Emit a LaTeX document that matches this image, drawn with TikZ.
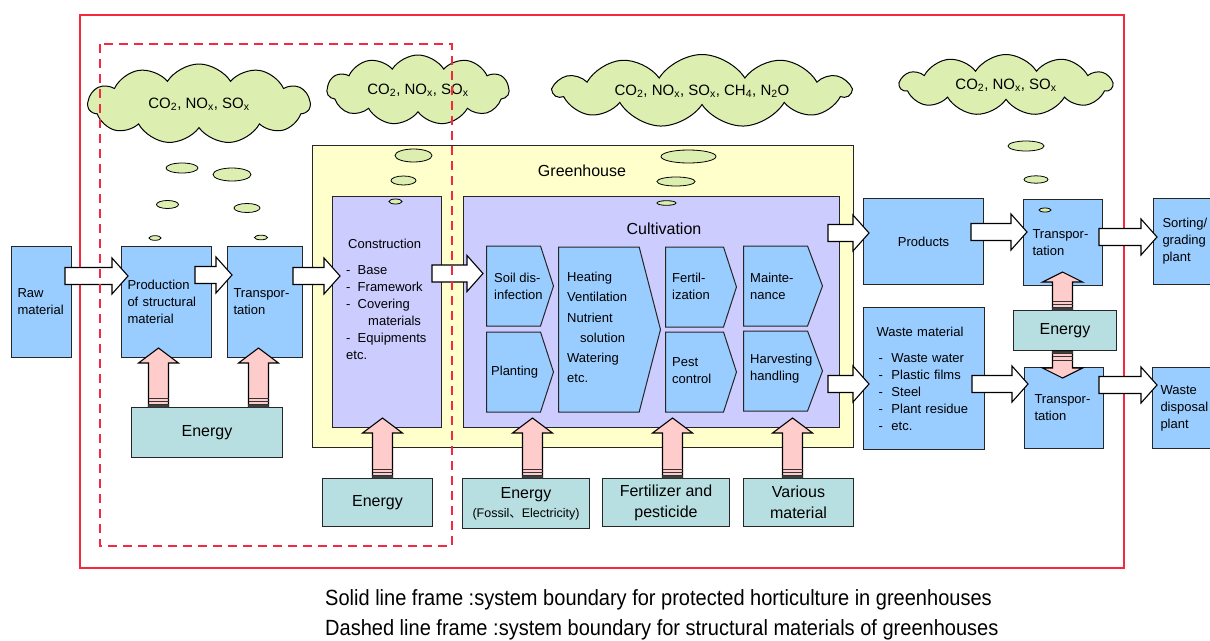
\documentclass[tikz,border=0pt]{standalone}
\usepackage{fontspec}
\setmainfont{Liberation Sans}
\newfontfamily\capfont[FakeStretch=0.91]{Liberation Sans}
\newfontfamily\cjk{Noto Sans CJK JP}
\usetikzlibrary{shapes.symbols,calc}

\definecolor{boxblue}{HTML}{99CCFF}
\definecolor{boxlilac}{HTML}{CCCCFF}
\definecolor{houseyellow}{HTML}{FFFFCC}
\definecolor{energyteal}{HTML}{B7DFE1}
\definecolor{cloudgreen}{HTML}{DDEFB0}
\definecolor{arrowpink}{HTML}{FFCCCC}
\definecolor{framered}{HTML}{F5283F}

\tikzset{
  box/.style={draw=black!85, line width=1pt, anchor=north west, inner xsep=6pt, inner ysep=0pt,
    align=left, font=\fontsize{13}{17}\selectfont},
  bluebox/.style={box, fill=boxblue},
  lilacbox/.style={box, fill=boxlilac},
  energybox/.style={box, fill=energyteal, align=center, inner xsep=0pt, font=\fontsize{16}{21}\selectfont},
  chev/.style={signal, signal to=east, draw=black!85, line width=1pt, fill=boxblue, anchor=west, inner sep=0pt},
  chevtxt/.style={anchor=west, align=left, inner sep=0pt, font=\fontsize{13}{17}\selectfont},
  gas/.style={cloud, cloud puffs=11, cloud puff arc=115, cloud ignores aspect, draw, line width=1pt, fill=cloudgreen,
    inner sep=0pt, font=\fontsize{15}{17}\selectfont},
  bubble/.style={draw, line width=.8pt, fill=cloudgreen},
  arrowline/.style={draw=black, line width=1.1pt, line join=miter},
  stripe/.style={draw=black!80, line width=.7pt},
}

% white block arrow between two boxes
\newcommand\blockarrow[2]{%
  \draw[arrowline, fill=white] let \p1=#1, \p2=#2 in
    (\x1,\y1+8.5pt) -- (\x2-16pt,\y1+8.5pt) -- (\x2-16pt,\y1+18pt) -- (\x2,\y1)
    -- (\x2-16pt,\y1-18pt) -- (\x2-16pt,\y1-8.5pt) -- (\x1,\y1-8.5pt) -- cycle;
}
% pink energy arrow, #3 = head length
\newcommand\pinkarrow[3]{%
  \draw[arrowline, fill=arrowpink] let \p1=#1, \p2=#2, \n2={sign(\y2-\y1)*#3} in
    ({\x1-10pt},{\y1}) -- ({\x1-10pt},{\y2-(\n2)}) -- ({\x1-20pt},{\y2-(\n2)}) -- (\x1,\y2)
    -- ({\x1+20pt},{\y2-(\n2)}) -- ({\x1+10pt},{\y2-(\n2)}) -- ({\x1+10pt},{\y1}) -- cycle;
  \draw[stripe, fill=black!75] let \p1=#1, \p2=#2, \n1={sign(\y2-\y1)} in
    ({\x1-10pt},{\y1}) rectangle ({\x1+10pt},{\y1+(\n1)*2.5pt})
    ({\x1-10pt},{\y1+(\n1)*5.5pt}) -- ({\x1+10pt},{\y1+(\n1)*5.5pt})
    ({\x1-10pt},{\y1+(\n1)*9pt}) -- ({\x1+10pt},{\y1+(\n1)*9pt});
}

\begin{document}
\begin{tikzpicture}[x=1pt,y=-1pt]
\useasboundingbox (0,0) rectangle (1210,640);

% system boundary
\draw[framered, line width=2.5pt] (80,15) rectangle (1124,568);

% emissions
\node[gas, minimum width=222, minimum height=80] (gas1) at (199,104) {CO\textsubscript{2}, NO\textsubscript{x}, SO\textsubscript{x}};
\node[gas, minimum width=182, minimum height=70] (gas2) at (418,90) {CO\textsubscript{2}, NO\textsubscript{x}, SO\textsubscript{x}};
\node[gas, minimum width=296, minimum height=73] (gas3) at (702,91) {CO\textsubscript{2}, NO\textsubscript{x}, SO\textsubscript{x}, CH\textsubscript{4}, N\textsubscript{2}O};
\node[gas, minimum width=212, minimum height=61] (gas4) at (1006,85) {CO\textsubscript{2}, NO\textsubscript{x}, SO\textsubscript{x}};

% material chain
\node[bluebox, minimum width=60, minimum height=111, text width=48pt] (raw) at (11,246) {Raw\\material};
\node[bluebox, minimum width=90, minimum height=111, text width=78pt] (prod) at (121,246) {Production\\of structural\\material};
\node[bluebox, minimum width=75, minimum height=111, text width=63pt] (trans1) at (227,246) {Transpor-\\tation};
\node[energybox, minimum width=151, minimum height=50] (energy1) at (131,407) {Energy};

% greenhouse
\node[box, fill=houseyellow, minimum width=541, minimum height=302] (house) at (312,145) {};
\node[lilacbox, minimum width=109, minimum height=231] (constr) at (332,196) {};
\node[lilacbox, minimum width=376, minimum height=231] (cult) at (463,196) {};
\node[font=\fontsize{16}{18}\selectfont, inner sep=0pt] (houselbl) at (582,171) {Greenhouse};
\node[font=\fontsize{16}{18}\selectfont, inner sep=0pt] (cultlbl) at (664,229) {Cultivation};
\node[chevtxt, anchor=north west] (constrtxt) at (346,239) {\hspace*{2pt}Construction\\[9pt]
  - \ Base\\- \ Framework\\- \ Covering\\\hspace*{22pt}materials\\- \ Equipments\\etc.};

\node[chev, signal pointer angle=144, minimum width=67, minimum height=80] (soil) at (486,286) {};
\node[chev, signal pointer angle=144, minimum width=67, minimum height=80] (plant) at (486,372) {};
\node[chev, signal pointer angle=151, minimum width=102, minimum height=165] (heat) at (558,329.5) {};
\node[chev, signal pointer angle=144, minimum width=71, minimum height=80] (fert) at (665,287) {};
\node[chev, signal pointer angle=144, minimum width=71, minimum height=80] (pest) at (665,372) {};
\node[chev, signal pointer angle=139, minimum width=79, minimum height=80] (maint) at (743,286) {};
\node[chev, signal pointer angle=139, minimum width=79, minimum height=80] (harv) at (743,371) {};
\node[chevtxt] (soiltxt) at ([xshift=8]soil.west) {Soil dis-\\infection};
\node[chevtxt] (planttxt) at ([xshift=5]plant.west) {Planting};
\node[chevtxt, font=\fontsize{13}{20.2}\selectfont] (heattxt) at ([xshift=9,yshift=2]heat.west)
  {Heating\\Ventilation\\Nutrient\\\hspace*{13pt}solution\\Watering\\etc.};
\node[chevtxt] (ferttxt) at ([xshift=7,yshift=1]fert.west) {Fertil-\\ization};
\node[chevtxt] (pesttxt) at ([xshift=7,yshift=1]pest.west) {Pest\\control};
\node[chevtxt] (mainttxt) at ([xshift=7]maint.west) {Mainte-\\nance};
\node[chevtxt] (harvtxt) at ([xshift=7,yshift=2]harv.west) {Harvesting\\handling};

% inputs
\node[energybox, minimum width=110, minimum height=48] (energy2) at (322,478) {Energy};
\node[energybox, minimum width=127, minimum height=50, font=\fontsize{16}{19}\selectfont] (energy3) at (462,478)
  {Energy\\{\fontsize{12.5}{15}\selectfont (Fossil{\cjk 、}Electricity)}};
\node[energybox, minimum width=127, minimum height=48] (fertil) at (602,478) {Fertilizer and\\pesticide};
\node[energybox, minimum width=110, minimum height=48] (various) at (743,478) {Various\\material};

% outputs
\node[bluebox, minimum width=120, minimum height=86, align=center] (products) at (863,198) {Products};
\node[bluebox, minimum width=121, minimum height=142, inner xsep=13pt, text width=95pt] (waste) at (863,307)
  {Waste material\\[9pt]\hspace*{2pt}- \ Waste water\\\hspace*{2pt}- \ Plastic films\\\hspace*{2pt}- \ Steel\\
   \hspace*{2pt}- \ Plant residue\\\hspace*{2pt}- \ etc.};
\node[bluebox, minimum width=79, minimum height=86, inner xsep=9pt, text width=61pt] (trans2) at (1023,199) {Transpor-\\tation};
\node[bluebox, minimum width=70, minimum height=86, inner xsep=9pt, text width=52pt] (sorting) at (1153,198) {Sorting/\\grading\\plant};
\node[energybox, minimum width=103, minimum height=40] (energy4) at (1013,310) {Energy};
\node[bluebox, minimum width=79, minimum height=81, inner xsep=10pt, text width=59pt] (trans3) at (1024,367) {Transpor-\\tation};
\node[bluebox, minimum width=70, minimum height=81, inner xsep=8pt, text width=54pt] (disposal) at (1152,367) {Waste\\disposal\\plant};

% bubbles
\draw[bubble] (182,168) ellipse (16 and 5);
\draw[bubble] (232,174.5) ellipse (19 and 6.5);
\draw[bubble] (167.5,204.5) ellipse (11 and 4);
\draw[bubble] (247,208) ellipse (13 and 4.5);
\draw[bubble] (155,238) ellipse (6 and 2.3);
\draw[bubble] (261,237.5) ellipse (6.5 and 2.3);
\draw[bubble] (413.5,155.5) ellipse (18.5 and 6.5);
\draw[bubble] (403.5,180.5) ellipse (12.5 and 4.5);
\draw[bubble] (395.5,201.5) ellipse (6.5 and 2.5);
\draw[bubble] (688.5,156.5) ellipse (27.5 and 6.5);
\draw[bubble] (676,181.5) ellipse (19 and 4.5);
\draw[bubble] (666.5,203) ellipse (9.5 and 2.3);
\draw[bubble] (1026,146) ellipse (18 and 5);
\draw[bubble] (1036,179.5) ellipse (12 and 3.7);
\draw[bubble] (1045,210) ellipse (6 and 2);

% flows
\blockarrow{([shift={(-7,30)}]raw.north east)}{([shift={(7,30)}]prod.north west)}
\blockarrow{([shift={(-17,29)}]prod.north east)}{([shift={(5,29)}]trans1.north west)}
\blockarrow{([shift={(-10,30)}]trans1.north east)}{([shift={(8,80)}]constr.north west)}
\blockarrow{([shift={(-10,77.5)}]constr.north east)}{([shift={(20,77.5)}]cult.north west)}
\blockarrow{([shift={(-12,37)}]cult.north east)}{([shift={(6,35)}]products.north west)}
\blockarrow{([shift={(-13,34)}]products.north east)}{([shift={(4,33)}]trans2.north west)}
\blockarrow{([shift={(-4,38)}]trans2.north east)}{([shift={(4,39)}]sorting.north west)}
\blockarrow{([shift={(-12,188)}]cult.north east)}{([shift={(6,77)}]waste.north west)}
\blockarrow{([shift={(-13,77)}]waste.north east)}{([shift={(4,17)}]trans3.north west)}
\blockarrow{([shift={(-5,18)}]trans3.north east)}{([shift={(5,18)}]disposal.north west)}

\pinkarrow{([xshift=-48.5]energy1.north)}{([shift={(-8,-10)}]prod.south)}{15pt}
\pinkarrow{([xshift=51.5]energy1.north)}{([shift={(-6.5,-10)}]trans1.south)}{15pt}
\pinkarrow{([xshift=5]energy2.north)}{([shift={(-4.5,-10)}]constr.south)}{15pt}
\pinkarrow{([xshift=6.5]energy3.north)}{([shift={(-119,-10)}]cult.south)}{15pt}
\pinkarrow{([xshift=6.5]fertil.north)}{([shift={(21,-10)}]cult.south)}{15pt}
\pinkarrow{([xshift=-6]various.north)}{([shift={(141,-10)}]cult.south)}{15pt}
\pinkarrow{([xshift=-2.5]energy4.north)}{([shift={(-0.5,-14)}]trans2.south)}{10pt}
\pinkarrow{([xshift=-2.5]energy4.south)}{([shift={(-1.5,11)}]trans3.north)}{10pt}

% structural materials boundary
\draw[framered, line width=2.5pt, dash pattern=on 9pt off 6pt] (100,44) rectangle (452,546);

\node[anchor=west, inner sep=0pt, font=\capfont\fontsize{22}{24}\selectfont] (cap1) at (325,600)
  {Solid line frame :system boundary for protected horticulture in greenhouses};
\node[anchor=west, inner sep=0pt, font=\capfont\fontsize{22}{24}\selectfont] (cap2) at (325,630)
  {Dashed line frame :system boundary for structural materials of greenhouses};
\end{tikzpicture}
\end{document}
